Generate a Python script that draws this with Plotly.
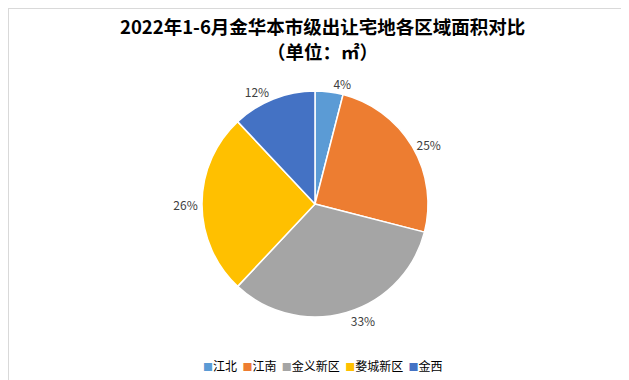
import plotly.graph_objects as go

regions = ["江北", "江南", "金义新区", "婺城新区", "金西"]
shares = [4, 25, 33, 26, 12]
colors = ["#5B9BD5", "#ED7D31", "#A5A5A5", "#FFC000", "#4472C4"]
title_lines = ["2022年1-6月金华本市级出让宅地各区域面积对比", "（单位：㎡）"]

FONT = "Noto Sans CJK SC"

fig = go.Figure(go.Pie(
    labels=regions,
    values=shares,
    sort=False,
    direction="clockwise",
    rotation=0,
    marker=dict(colors=colors, line=dict(color="white", width=1.5)),
    texttemplate="%{percent:.0%}",
    textposition="outside",
    textfont=dict(family=FONT, size=12, color="#404040"),
    domain=dict(x=[0.3084, 0.6677], y=[0.1868, 0.7816]),
    hoverinfo="label+percent",
    showlegend=False,
))

legend_text = "&nbsp;&nbsp;".join(
    f"<span style='color:{c}; font-size:10px'>■</span>{r}" for r, c in zip(regions, colors)
)

annotations = [
    dict(text=f"<b>{title_lines[0]}</b>", x=0.5, y=1 - 18 / 380, xref="paper", yref="paper",
         xanchor="center", yanchor="middle", showarrow=False,
         font=dict(family=FONT, size=18.5, color="#000000")),
    dict(text=f"<b>{title_lines[1]}</b>", x=0.5, y=1 - 43 / 380, xref="paper", yref="paper",
         xanchor="center", yanchor="middle", showarrow=False,
         font=dict(family=FONT, size=18.5, color="#000000")),
    dict(text=legend_text, x=0.5, y=1 - 357 / 380, xref="paper", yref="paper",
         xanchor="center", yanchor="middle", showarrow=False,
         font=dict(family=FONT, size=12, color="#000000")),
]

fig.update_layout(
    width=629, height=380,
    margin=dict(l=0, r=0, t=0, b=0),
    paper_bgcolor="white",
    annotations=annotations,
    shapes=[dict(type="rect", xref="paper", yref="paper", x0=0, y0=0, x1=1, y1=1,
                 line=dict(color="#D9D9D9", width=2))],
)

fig.write_html("out.html")
